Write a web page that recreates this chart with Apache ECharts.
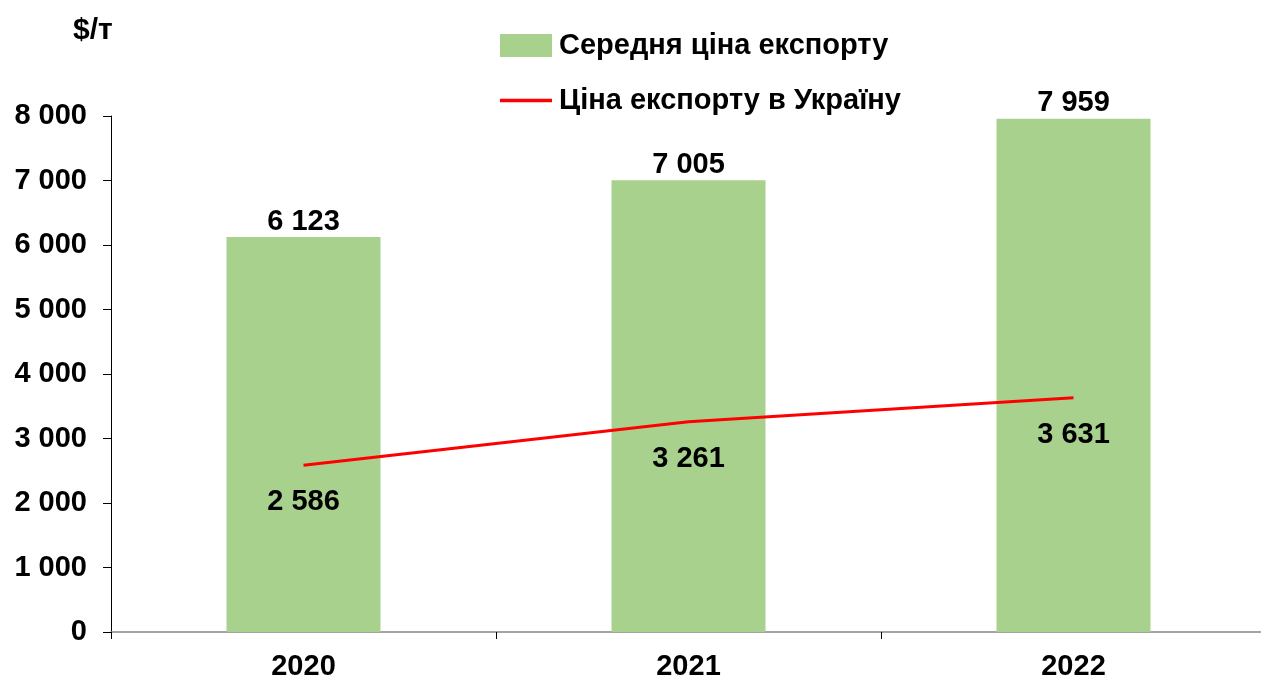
<!DOCTYPE html>
<html lang="uk">
<head>
    <meta charset="UTF-8">
    <title>Ціна експорту</title>
    <style>
        html, body { margin: 0; padding: 0; background: #fff; overflow: hidden; }
        #main { width: 1261px; height: 677px; }
    </style>
</head>
<body>
<div id="main"></div>
<script src="https://cdn.jsdelivr.net/npm/echarts@6/dist/echarts.min.js"></script>
<script>
    var years = ['2020', '2021', '2022'];
    var avgExport = [6123, 7005, 7959];     // Середня ціна експорту
    var ukrExport = [2586, 3261, 3631];     // Ціна експорту в Україну
    var yTicks = [0, 1000, 2000, 3000, 4000, 5000, 6000, 7000, 8000];

    function fmt(v) {
        return String(v).replace(/\B(?=(\d{3})+(?!\d))/g, ' ');
    }

    var font = 'Arial, "Liberation Sans", sans-serif';
    var fs = 29;
    var myChart = echarts.init(document.getElementById('main'));
    var option = {
        animation: false,
        textStyle: { fontFamily: font },
        grid: { left: 111, top: 116, width: 1155, height: 516, outerBoundsMode: 'none', containLabel: false },
        legend: {
            left: 500,
            top: 31,
            padding: 0,
            orient: 'vertical',
            itemWidth: 52,
            itemHeight: 23,
            itemGap: 26,
            textStyle: { fontSize: fs, fontWeight: 'bold', color: '#000', fontFamily: font, padding: [0, 0, 0, 2] },
            data: [
                { name: 'Середня ціна експорту', icon: 'rect' },
                { name: 'Ціна експорту в Україну', icon: 'path://M0,0L52,0L52,3.5L0,3.5Z' }
            ]
        },
        graphic: [{
            type: 'text',
            left: 73,
            top: 16,
            style: { text: '$/т', fill: '#000', font: 'bold 30px ' + font }
        }],
        xAxis: {
            type: 'category',
            data: years,
            axisLine: { lineStyle: { color: '#868686', width: 1.5 } },
            axisTick: { show: true, length: 7, lineStyle: { color: '#000' } },
            axisLabel: { fontSize: fs, fontWeight: 'bold', color: '#000', margin: 20 }
        },
        yAxis: {
            type: 'value',
            min: yTicks[0],
            max: yTicks[yTicks.length - 1],
            interval: 1000,
            splitLine: { show: false },
            axisLine: { show: true, lineStyle: { color: '#000', width: 1 } },
            axisTick: { show: true, length: 8, lineStyle: { color: '#000' } },
            axisLabel: {
                fontSize: fs, fontWeight: 'bold', color: '#000', margin: 24,
                formatter: function (v) { return fmt(v); }
            }
        },
        series: [
            {
                name: 'Середня ціна експорту',
                type: 'bar',
                data: avgExport,
                barWidth: '40%',
                itemStyle: { color: '#a9d18e' },
                label: {
                    show: true,
                    position: 'top',
                    distance: 1,
                    fontSize: fs,
                    fontWeight: 'bold',
                    color: '#000',
                    formatter: function (p) { return fmt(p.value); }
                }
            },
            {
                name: 'Ціна експорту в Україну',
                type: 'line',
                data: ukrExport,
                symbol: 'none',
                lineStyle: { color: '#ff0000', width: 3 },
                itemStyle: { color: '#ff0000' }
            },
            {
                // labels for the red line
                name: 'labels',
                type: 'scatter',
                data: ukrExport,
                symbolSize: 1,
                itemStyle: { color: 'rgba(0,0,0,0)', opacity: 1 },
                label: {
                    show: true,
                    position: 'bottom',
                    distance: 22,
                    fontSize: fs,
                    fontWeight: 'bold',
                    color: '#000',
                    formatter: function (p) { return fmt(p.value); }
                }
            }
        ]
    };
    myChart.setOption(option);
</script>
</body>
</html>
